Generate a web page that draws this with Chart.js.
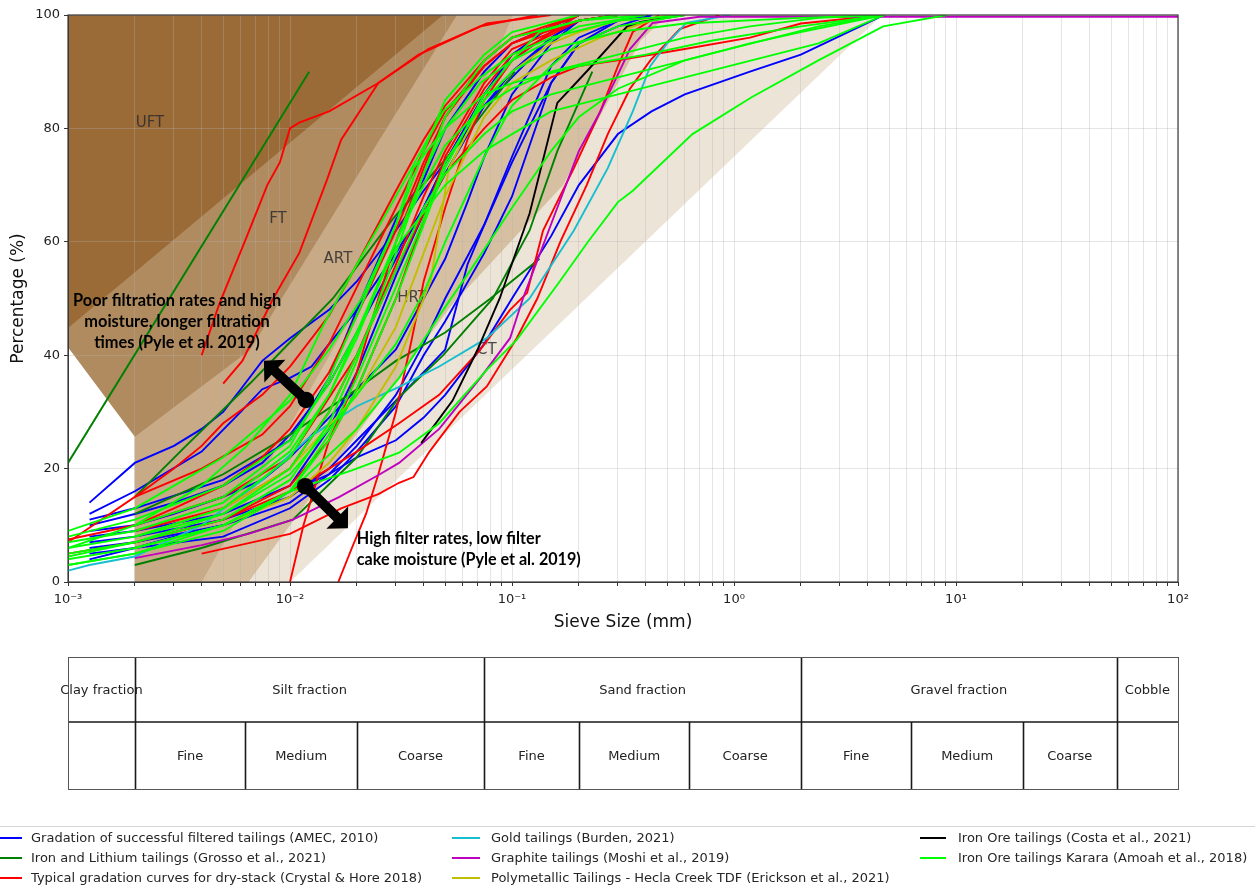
<!DOCTYPE html>
<html>
<head>
<meta charset="utf-8">
<script src="https://cdn.jsdelivr.net/npm/chart.js@4.4.1/dist/chart.umd.min.js"></script>
<style>
  html, body { margin: 0; padding: 0; background: #ffffff; }
  #wrap { position: relative; width: 1255px; height: 886px; }
  canvas { display: block; }
</style>
</head>
<body>
<div id="wrap"><canvas id="psd" width="1255" height="886"></canvas></div>
<script>
// ---- Gradation curves: [sieve size (mm), percent passing (%)] ----
const amec1 = [[0.00125,14],[0.002,21],[0.003,24],[0.004,27],[0.005,30],[0.006,34],[0.0075,39],[0.01,43],[0.015,48],[0.02,53],[0.03,62],[0.04,69],[0.05,74],[0.075,84],[0.1,90],[0.15,96],[0.2,99],[0.3,100]];
const amec2 = [[0.00125,12],[0.002,16],[0.004,23],[0.006,30],[0.0075,34],[0.01,36],[0.0125,38],[0.015,42],[0.02,48],[0.03,58],[0.04,66],[0.05,74],[0.075,86],[0.1,93],[0.15,98],[0.2,100]];
const amec3 = [[0.00125,10],[0.002,12],[0.003,14],[0.005,17],[0.0075,21],[0.01,26],[0.015,35],[0.02,44],[0.03,57],[0.04,66],[0.05,74],[0.075,86],[0.1,92],[0.15,97],[0.2,100]];
const amec4 = [[0.00125,9],[0.002,10],[0.003,12],[0.005,15],[0.0075,18],[0.01,22],[0.015,29],[0.02,34],[0.03,41],[0.04,50],[0.05,57],[0.063,67],[0.075,75],[0.1,86],[0.15,95],[0.2,99],[0.3,100]];
const amec5 = [[0.00125,11],[0.002,13],[0.005,18],[0.01,25],[0.015,36],[0.02,48],[0.03,64],[0.04,71],[0.05,80],[0.075,90],[0.1,95],[0.15,98],[0.2,100]];
const amec6 = [[0.00125,8],[0.002,9],[0.005,12],[0.01,17],[0.015,27],[0.02,37],[0.03,54],[0.04,65],[0.05,72],[0.075,84],[0.1,89],[0.15,96],[0.2,99],[0.3,100]];
const amec7 = [[0.00125,6],[0.002,7],[0.005,10],[0.01,14],[0.015,19],[0.02,24],[0.03,33],[0.04,42],[0.05,50],[0.075,63],[0.1,75],[0.15,91],[0.2,96],[0.3,99],[0.425,100]];
const amec8 = [[0.00125,5],[0.002,6],[0.005,8],[0.01,13],[0.015,18],[0.02,23],[0.03,31],[0.04,40],[0.05,46],[0.075,58],[0.1,68],[0.15,88],[0.2,95],[0.3,98],[0.425,100]];
const amec9 = [[0.00125,4],[0.002,6],[0.003,8],[0.005,10],[0.0075,13],[0.01,16],[0.015,19],[0.02,22],[0.03,25],[0.04,29],[0.05,33],[0.075,42],[0.1,50],[0.15,61],[0.2,70],[0.3,79],[0.425,83],[0.6,86],[1.18,90],[2,93],[4.75,100]];
const amec10 = [[0.00125,7],[0.002,8],[0.005,11],[0.01,15],[0.015,20],[0.02,25],[0.03,32],[0.04,37],[0.05,41],[0.063,56],[0.075,63],[0.1,74],[0.15,88],[0.2,95],[0.3,99],[0.425,100]];

const grosso1 = [[0.001,21],[0.0122,90]];
const grosso2 = [[0.002,3],[0.004,6],[0.0103,11],[0.02,22],[0.031,32.6],[0.049,40],[0.082,50],[0.12,62],[0.16,76],[0.23,90]];
const grosso3 = [[0.002,15],[0.0034,24],[0.0066,35],[0.0093,41],[0.0156,50],[0.029,64],[0.06,78],[0.103,90]];
const grosso4 = [[0.002,12],[0.005,19],[0.01,26],[0.02,34],[0.03,39],[0.05,44],[0.08,50],[0.133,57]];

const dry1 = [[0.004,40],[0.0048,49],[0.0064,61],[0.0079,70],[0.009,74],[0.01,80],[0.011,81],[0.015,83],[0.025,88],[0.038,93],[0.072,98],[0.13,100]];
const dry2 = [[0.005,35],[0.0061,39],[0.0084,50],[0.011,58],[0.0147,71],[0.017,78],[0.025,88],[0.042,94],[0.077,98.5],[0.15,100]];
const dry3 = [[0.01,0],[0.0115,10],[0.013,17],[0.015,25],[0.018,32],[0.02,37],[0.025,50],[0.03,60],[0.04,73],[0.05,82],[0.075,92],[0.1,96],[0.2,99],[0.3,100]];
const dry4 = [[0.0165,0],[0.019,6],[0.022,12],[0.025,19],[0.03,30],[0.035,42],[0.04,53],[0.05,66],[0.063,78],[0.075,85],[0.1,92],[0.15,97],[0.2,100]];
const dry5 = [[0.004,5],[0.01,8.5],[0.017,13],[0.025,15.5],[0.031,17.5],[0.036,18.5],[0.0425,23],[0.058,30],[0.077,34.5],[0.105,43],[0.13,50],[0.165,60],[0.217,70],[0.27,79],[0.34,87],[0.42,92],[0.57,97.5],[0.86,100]];
const dry6 = [[0.002,7],[0.005,11],[0.01,16],[0.015,20],[0.02,23],[0.031,28],[0.047,33],[0.072,41],[0.098,48],[0.117,51],[0.138,62],[0.19,73],[0.25,83],[0.3,91],[0.35,97],[0.46,100]];
const dry7 = [[0.001,7.5],[0.002,10],[0.003,13],[0.005,17],[0.0075,22],[0.01,27],[0.015,37],[0.02,47],[0.03,62],[0.04,74],[0.05,82],[0.075,91],[0.1,95],[0.2,99],[0.3,100]];
const dry8 = [[0.001,5],[0.002,7],[0.005,11],[0.01,17],[0.015,25],[0.02,34],[0.03,50],[0.04,64],[0.05,75],[0.075,87],[0.1,93],[0.2,99],[0.3,100]];
const dry9 = [[0.002,15],[0.003,20],[0.004,24],[0.005,28],[0.0075,33],[0.01,38],[0.015,47],[0.02,56],[0.03,69],[0.04,78],[0.05,84],[0.075,92],[0.1,96],[0.2,100]];
const dry10 = [[0.002,10],[0.005,15],[0.01,22],[0.02,40],[0.03,55],[0.04,65],[0.05,72],[0.075,80],[0.1,85],[0.15,89],[0.2,91],[0.3,92],[0.6,94],[1.18,96],[2,98.5],[4.75,100]];
const dry11 = [[0.001,7],[0.002,15],[0.004,20],[0.0075,26],[0.01,31],[0.015,42],[0.02,52],[0.03,66],[0.04,76],[0.05,83],[0.075,91],[0.1,95],[0.15,98],[0.2,100]];
const dry12 = [[0.002,9],[0.005,13],[0.01,20],[0.015,30],[0.02,40],[0.03,56],[0.04,68],[0.05,76],[0.075,88],[0.1,94],[0.2,99],[0.3,100]];

const burden1 = [[0.001,2],[0.00125,3],[0.002,4.5],[0.004,10],[0.0075,18],[0.0123,25.6],[0.02,31],[0.031,34.4],[0.047,38],[0.077,43],[0.12,50],[0.19,62],[0.27,73],[0.35,83],[0.42,91],[0.5,95],[0.61,98.6],[0.96,100]];

const moshi1 = [[0.002,4.2],[0.004,6.5],[0.0065,8.5],[0.0103,11],[0.0167,15],[0.0254,19],[0.031,21],[0.047,27],[0.072,36],[0.098,43],[0.112,50],[0.16,66],[0.2,76],[0.25,83],[0.34,94],[0.43,98.6],[0.7,99.7],[100,99.7]];

const erickson1 = [[0.002,6],[0.005,10],[0.01,15],[0.015,21],[0.02,27],[0.03,38],[0.043,53],[0.052,73],[0.075,85],[0.1,90],[0.15,95],[0.2,97],[0.3,99],[0.6,100]];
const erickson2 = [[0.002,8],[0.005,13],[0.01,20],[0.02,33],[0.03,45],[0.04,58],[0.05,68],[0.075,82],[0.1,88],[0.15,92],[0.25,96],[0.5,100]];

const costa1 = [[0.039,24.5],[0.054,32],[0.07,41],[0.088,50],[0.12,65],[0.16,84.5],[0.22,90.3],[0.33,98],[0.38,98.8],[0.6,100]];

const karara1 = [[0.001,9],[0.002,13],[0.005,22],[0.01,32],[0.015,41],[0.021,50],[0.03,63],[0.036,73],[0.05,80],[0.072,88],[0.1,92],[0.133,97],[0.2,99],[0.4,100]];
const karara2 = [[0.001,6],[0.002,10],[0.004,17],[0.0064,24],[0.01,33],[0.014,45],[0.02,56],[0.029,67],[0.049,83],[0.072,89],[0.1,93],[0.15,96],[0.3,99],[0.6,100]];
const karara3 = [[0.001,4.5],[0.002,7],[0.005,12],[0.01,20],[0.015,30],[0.02,40],[0.03,55],[0.04,66],[0.05,72],[0.075,79],[0.1,83],[0.15,86],[0.3,89],[0.6,92],[1.18,95],[2,97],[4.75,100]];
const karara4 = [[0.001,6],[0.002,8],[0.005,13],[0.01,22],[0.015,33],[0.02,44],[0.03,60],[0.04,72],[0.05,80],[0.075,86],[0.1,88],[0.2,91],[0.4,93],[0.8,95.5],[2,98],[4.75,100]];
const karara5 = [[0.001,3],[0.002,5],[0.005,9],[0.01,16],[0.015,26],[0.02,36],[0.03,52],[0.04,64],[0.05,74],[0.075,85],[0.1,90],[0.15,94],[0.3,97],[0.6,98.5],[2,99.5],[4.75,100]];
const karara6 = [[0.001,3],[0.002,5],[0.005,10],[0.01,16],[0.019,19.7],[0.031,22.8],[0.047,28],[0.077,37.4],[0.105,42.7],[0.164,53],[0.22,60],[0.3,67],[0.35,69],[0.65,79],[1.2,85.5],[2.4,92],[4.7,98],[9.1,100]];
const karara7 = [[0.001,8],[0.002,11],[0.005,17],[0.01,25],[0.015,35],[0.02,44],[0.03,59],[0.05,70],[0.075,76],[0.1,79],[0.15,83],[0.3,86],[0.6,89],[1.2,92],[2.4,95],[4.75,100]];
const karara8 = [[0.001,5],[0.002,7],[0.005,11],[0.01,18],[0.015,28],[0.02,39],[0.03,58],[0.04,72],[0.05,82],[0.075,92],[0.1,96],[0.2,99],[0.3,100]];
const karara9 = [[0.001,4],[0.002,6],[0.005,10],[0.01,16],[0.015,25],[0.02,34],[0.03,50],[0.04,63],[0.05,73],[0.075,86],[0.1,92],[0.2,98],[0.4,100]];
const karara10 = [[0.001,7],[0.002,9],[0.005,14],[0.01,23],[0.015,33],[0.02,43],[0.03,60],[0.04,70],[0.05,77],[0.075,84],[0.1,87],[0.15,90],[0.3,93],[0.6,96],[1.18,98],[2.4,99.5],[4.75,100]];
const karara11 = [[0.002,10],[0.005,15],[0.01,24],[0.015,36],[0.02,47],[0.03,63],[0.04,76],[0.05,85],[0.075,93],[0.1,97],[0.2,100]];
const karara12 = [[0.002,8],[0.005,12],[0.01,19],[0.015,27],[0.02,33],[0.03,42],[0.04,51],[0.05,60],[0.075,75],[0.1,84],[0.15,91],[0.2,95],[0.3,98],[0.6,100]];
const karara13 = [[0.002,6],[0.005,10],[0.01,16],[0.02,27],[0.031,36],[0.049,48],[0.065,55],[0.1,66],[0.15,76],[0.2,82],[0.3,87],[0.6,92],[1.2,95],[2.4,98],[4.75,100]];

// ---- Filterability zones: outlines in [size (mm), percent] ----
const zoneCT  = [[0.002,0],[0.01,0],[4.64,100],[0.002,100]];
const zoneHRT = [[0.002,0],[0.0065,0],[0.0526,48.5],[0.17,70],[0.38,95.5],[0.5,100],[0.002,100]];
const zoneART = [[0.002,0],[0.004,0],[0.077,89.1],[0.101,100],[0.002,100]];
const zoneFT  = [[0.001,100],[0.0565,100],[0.0237,76.2],[0.0066,40.9],[0.002,25.6],[0.001,41.4]];
const zoneUFT = [[0.001,100],[0.0489,100],[0.001,44.8]];
const zoneNames = ['CT','HRT','ART','FT','UFT'];
const zoneLabelAt = [[0.0771,40.9],[0.0355,50.1],[0.01645,57],[0.00883,64],[0.00234,81]];

// ---- Axis tick labels ----
const decadeLabels = ['10\u207B\u00B3','10\u207B\u00B2','10\u207B\u00B9','10\u2070','10\u00B9','10\u00B2'];
const yTickValues = [0,20,40,60,80,100];

// ---- Particle size classification strip ----
const fractionNames = ['Clay fraction','Silt fraction','Sand fraction','Gravel fraction','Cobble'];
const fractionBounds = [0.001,0.002,0.075,2,53,100];
const subNames = ['','Fine','Medium','Coarse','Fine','Medium','Coarse','Fine','Medium','Coarse',''];
const subBounds = [0.001,0.002,0.0063,0.02,0.075,0.2,0.63,2,6.3,20,53,100];

// ---- Series (legend order) ----
const series = [
  {label:'Gradation of successful filtered tailings (AMEC, 2010)', color:'#0000ff', curves:[amec1,amec2,amec3,amec4,amec5,amec6,amec7,amec8,amec9,amec10]},
  {label:'Iron and Lithium tailings (Grosso et al., 2021)', color:'#008000', curves:[grosso1,grosso2,grosso3,grosso4]},
  {label:'Typical gradation curves for dry-stack (Crystal & Hore 2018)', color:'#ff0000', curves:[dry1,dry2,dry3,dry4,dry5,dry6,dry7,dry8,dry9,dry10,dry11,dry12]},
  {label:'Gold tailings (Burden, 2021)', color:'#17becf', curves:[burden1]},
  {label:'Graphite tailings (Moshi et al., 2019)', color:'#bf00bf', curves:[moshi1]},
  {label:'Polymetallic Tailings - Hecla Creek TDF (Erickson et al., 2021)', color:'#bfbf00', curves:[erickson1,erickson2]},
  {label:'Iron Ore tailings (Costa et al., 2021)', color:'#000000', curves:[costa1]},
  {label:'Iron Ore tailings Karara (Amoah et al., 2018)', color:'#00ff00', curves:[karara1,karara2,karara3,karara4,karara5,karara6,karara7,karara8,karara9,karara10,karara11,karara12,karara13]}
];

// ---- Styling ----
const zoneColors = ['#ede4d8','#d7c0a1','#c9aa86','#b08b60','#9b6b37'];
const FONT = '"DejaVu Sans", "Liberation Sans", sans-serif';
const noteFont = 'Lato, "Open Sans", sans-serif';
const notes = {
  upper: {lines:['Poor filtration rates and high','moisture, longer filtration','times (Pyle et al. 2019)'], at:[0.0031,49.6], step:21, align:'center', fitWidth:208},
  lower: {lines:['High filter rates, low filter','cake moisture (Pyle et al. 2019)'], at:[0.02,7.6], step:21, align:'left', fitWidth:224, fitLine:1}
};
const arrows = [
  {from:[0.0118,32.1], to:[0.00763,39.0]},
  {from:[0.0117,16.9], to:[0.01824,9.5]}
];

const datasets = [];
series.forEach((s, si) => {
  s.curves.forEach(c => {
    datasets.push({
      data: c.map(([x, y]) => ({x, y})),
      borderColor: s.color,
      borderWidth: 1.9,
      pointRadius: 0,
      fill: false,
      tension: 0,
      order: series.length - si
    });
  });
});

function px(chart, p) {
  return [chart.scales.x.getPixelForValue(p[0]), chart.scales.y.getPixelForValue(p[1])];
}

function drawArrow(ctx, x0, y0, x1, y1) {
  const ang = Math.atan2(y1 - y0, x1 - x0);
  const headLen = 15, headW = 31, shaftW = 10;
  const bx = x1 - headLen * Math.cos(ang), by = y1 - headLen * Math.sin(ang);
  const nx = -Math.sin(ang), ny = Math.cos(ang);
  ctx.beginPath();
  ctx.moveTo(x0 + nx * shaftW / 2, y0 + ny * shaftW / 2);
  ctx.lineTo(bx + nx * shaftW / 2, by + ny * shaftW / 2);
  ctx.lineTo(bx + nx * headW / 2, by + ny * headW / 2);
  ctx.lineTo(x1, y1);
  ctx.lineTo(bx - nx * headW / 2, by - ny * headW / 2);
  ctx.lineTo(bx - nx * shaftW / 2, by - ny * shaftW / 2);
  ctx.lineTo(x0 - nx * shaftW / 2, y0 - ny * shaftW / 2);
  ctx.closePath();
  ctx.fill();
}

const decorations = {
  id: 'decorations',
  beforeDraw(chart) {
    const {ctx, chartArea: a} = chart;
    ctx.save();
    ctx.beginPath();
    ctx.rect(a.left, a.top, a.right - a.left, a.bottom - a.top);
    ctx.clip();
    [zoneCT, zoneHRT, zoneART, zoneFT, zoneUFT].forEach((z, i) => {
      ctx.fillStyle = zoneColors[i];
      ctx.beginPath();
      z.forEach((p, k) => { const [x, y] = px(chart, p); k ? ctx.lineTo(x, y) : ctx.moveTo(x, y); });
      ctx.closePath();
      ctx.fill();
    });
    ctx.restore();
  },
  beforeDatasetsDraw(chart) {
    const {ctx} = chart;
    ctx.save();
    ctx.font = '15px ' + FONT;
    ctx.fillStyle = 'rgba(45,45,45,0.85)';
    ctx.textAlign = 'center';
    ctx.textBaseline = 'middle';
    zoneNames.forEach((n, i) => {
      const [x, y] = px(chart, zoneLabelAt[i]);
      ctx.fillText(n, x, y);
    });
    ctx.restore();
  },
  afterDatasetsDraw(chart) {
    const {ctx, chartArea: a} = chart;
    ctx.save();
    Object.values(notes).forEach(n => {
      ctx.font = '700 14px ' + noteFont;
      const ref = n.lines[n.fitLine || 0];
      const size = 14 * n.fitWidth / ctx.measureText(ref).width;
      ctx.font = '700 ' + size.toFixed(2) + 'px ' + noteFont;
      ctx.fillStyle = '#000';
      ctx.textAlign = n.align;
      ctx.textBaseline = 'middle';
      const [x, y] = px(chart, n.at);
      n.lines.forEach((t, i) => ctx.fillText(t, x, y + i * n.step));
    });
    ctx.fillStyle = '#000';
    arrows.forEach(ar => {
      const [x0, y0] = px(chart, ar.from);
      const [x1, y1] = px(chart, ar.to);
      drawArrow(ctx, x0, y0, x1, y1);
      ctx.beginPath();
      ctx.arc(x0, y0, 8.3, 0, Math.PI * 2);
      ctx.fill();
    });
    ctx.strokeStyle = '#3a3a3a';
    ctx.lineWidth = 1.2;
    ctx.strokeRect(a.left, a.top, a.right - a.left, a.bottom - a.top);
    ctx.restore();
  },
  afterDraw(chart) {
    const {ctx} = chart;
    const xs = chart.scales.x;
    const top = 657, mid = 722, bot = 789;
    ctx.save();
    const L = xs.getPixelForValue(subBounds[0]);
    const R = xs.getPixelForValue(subBounds[subBounds.length - 1]);
    ctx.strokeStyle = '#1a1a1a';
    ctx.lineWidth = 1.6;
    ctx.beginPath();
    ctx.moveTo(L, mid); ctx.lineTo(R, mid);
    fractionBounds.slice(1, -1).forEach(b => { const x = Math.round(xs.getPixelForValue(b)) + 0.5; ctx.moveTo(x, top); ctx.lineTo(x, mid); });
    subBounds.slice(1, -1).forEach(b => { const x = Math.round(xs.getPixelForValue(b)) + 0.5; ctx.moveTo(x, mid); ctx.lineTo(x, bot); });
    ctx.stroke();
    ctx.strokeStyle = '#555';
    ctx.lineWidth = 1;
    ctx.strokeRect(Math.round(L) + 0.5, top + 0.5, Math.round(R - L), bot - top);
    ctx.font = '13px ' + FONT;
    ctx.fillStyle = '#222';
    ctx.textAlign = 'center';
    ctx.textBaseline = 'middle';
    fractionNames.forEach((n, i) => {
      const x = (xs.getPixelForValue(fractionBounds[i]) + xs.getPixelForValue(fractionBounds[i + 1])) / 2;
      ctx.fillText(n, x, (top + mid) / 2 + 1);
    });
    subNames.forEach((n, i) => {
      if (!n) return;
      const x = (xs.getPixelForValue(subBounds[i]) + xs.getPixelForValue(subBounds[i + 1])) / 2;
      ctx.fillText(n, x, (mid + bot) / 2 + 1);
    });
    ctx.strokeStyle = '#d6d6d6';
    ctx.lineWidth = 1;
    ctx.beginPath();
    ctx.roundRect(-6.5, 826.5, 1268, 80, 4);
    ctx.stroke();
    const cols = [{s:0, e:22, t:31}, {s:452, e:480, t:491}, {s:920, e:946, t:958}];
    const rows = [838, 858, 878];
    ctx.textAlign = 'left';
    ctx.font = '13px ' + FONT;
    series.forEach((s, i) => {
      const c = cols[Math.floor(i / 3)], y = rows[i % 3];
      ctx.strokeStyle = s.color;
      ctx.lineWidth = 2;
      ctx.beginPath(); ctx.moveTo(c.s, y); ctx.lineTo(c.e, y); ctx.stroke();
      ctx.fillStyle = '#262626';
      ctx.fillText(s.label, c.t, y + 1);
    });
    ctx.restore();
  }
};

const gridColor = 'rgba(175,175,175,0.33)';

new Chart(document.getElementById('psd'), {
  type: 'line',
  data: {datasets},
  options: {
    responsive: false,
    devicePixelRatio: 1,
    animation: false,
    events: [],
    layout: {padding: {left: 0, top: 15, right: 77, bottom: 249}},
    plugins: {legend: {display: false}, tooltip: {enabled: false}},
    scales: {
      x: {
        type: 'logarithmic',
        min: 0.001, max: 100,
        afterFit(s) { s.height = 55; },
        afterBuildTicks(s) {
          const t = [];
          for (let e = -3; e <= 2; e++) {
            for (let m = 1; m <= 9; m++) {
              const v = Number((m * Math.pow(10, e)).toPrecision(10));
              if (v <= 100) t.push({value: v});
            }
          }
          s.ticks = t;
        },
        ticks: {
          autoSkip: false, maxRotation: 0, minRotation: 0, padding: 6,
          color: '#222', font: {family: FONT, size: 13},
          callback(v) {
            const l = Math.log10(v), r = Math.round(l);
            return Math.abs(l - r) < 1e-9 ? decadeLabels[r + 3] : '';
          }
        },
        grid: {color: gridColor, lineWidth: 1, tickColor: '#333', tickLength: 4},
        border: {display: true, color: '#3a3a3a', width: 1},
        title: {display: true, text: 'Sieve Size (mm)', color: '#111', font: {family: FONT, size: 17}, padding: {top: 2, bottom: 4}}
      },
      y: {
        min: 0, max: 100,
        afterFit(s) { s.width = 68; },
        afterBuildTicks(s) { s.ticks = yTickValues.map(v => ({value: v})); },
        ticks: {color: '#222', font: {family: FONT, size: 13}, padding: 4},
        grid: {color: gridColor, lineWidth: 1, tickColor: '#333', tickLength: 4},
        border: {display: true, color: '#3a3a3a', width: 1},
        title: {display: true, text: 'Percentage (%)', color: '#111', font: {family: FONT, size: 17}, padding: {top: 8, bottom: 4}}
      }
    }
  },
  plugins: [decorations]
});
</script>
</body>
</html>
